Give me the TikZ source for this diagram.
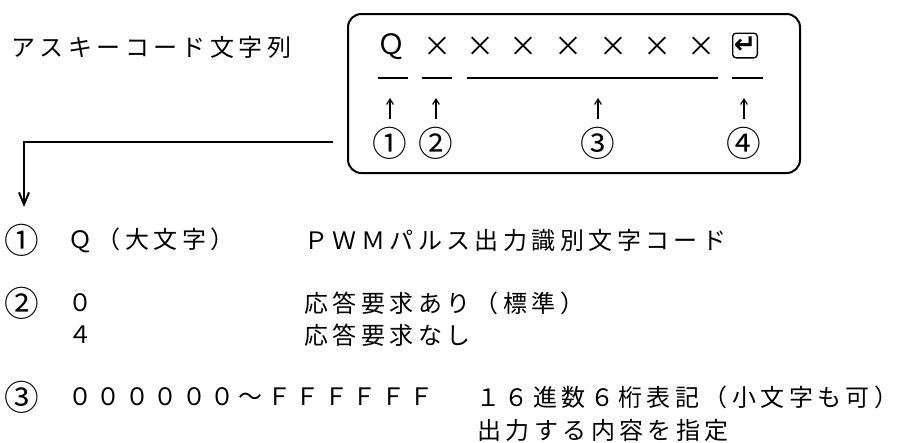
\documentclass[tikz,border=0pt]{standalone}
\usepackage{fontspec}
\newfontfamily\jp[LetterSpace=18.5]{Noto Sans CJK JP}
\newfontfamily\jpn{Noto Sans CJK JP}
\newfontfamily\symfont{DejaVu Sans}
\usetikzlibrary{arrows.meta, positioning, calc}

\begin{document}
\begin{tikzpicture}[
    x=0.75pt, y=-0.75pt,
    txt/.style={anchor=west, inner sep=0pt, font=\jp\fontsize{18pt}{22pt}\selectfont},
    glyph/.style={inner sep=0pt, font=\jpn\fontsize{26pt}{28pt}\selectfont},
    boxch/.style={inner sep=0pt, font=\jpn\fontsize{21pt}{24pt}\selectfont},
    uline/.style={line width=1.5pt},
    ptr/.style={-{Straight Barb[length=4pt,width=5pt]}, line width=0.9pt, shorten <=18pt},
    link/.style={-{Straight Barb[length=9pt,width=7.5pt]}, line width=1.5pt}
]
\useasboundingbox (0,0) rectangle (908,443);

% Title
\node[txt] (title) at (11,47) {アスキーコード文字列};

% Frame with the code string
\node[draw, line width=1.5pt, rounded corners=10pt, minimum width=339pt, minimum height=119.25pt, inner sep=0pt] (frame) at (574,93.5) {};

\node[boxch] (c0) at (391,47) {Ｑ};
\foreach \x [count=\i] in {437,480,523,568,613,657,701} {
    \node[boxch] (c\i) at (\x,47) {×};
}
\node[draw, line width=1pt, rounded corners=2.5pt, minimum size=18.5pt, inner sep=0pt, font=\symfont\bfseries\fontsize{20pt}{20pt}\selectfont] (ret) at (745,45.5) {↵};

% Underlines
\foreach \a/\b in {378/408, 422/452, 467/718, 732/763} {
    \draw[uline] (\a,78) -- (\b,78);
}

% Pointers
\foreach \x/\n/\t in {390/1/①, 436/2/②, 598/3/③, 744/4/④} {
    \node[glyph] (n\n) at (\x,143) {\t};
    \coordinate (tip\n) at (\x,98);
    \draw[ptr] (n\n.center) -- (tip\n);
}

% Connector to the list
\coordinate (turn) at (24,142);
\coordinate (drop) at (24,207);
\draw[link, shorten <=10.5pt] (frame.west |- turn) -| (drop);

% List
\node[glyph] (item1) at (21.5,240) {①};
\node[txt] (val1) at (68,240) {Ｑ（大文字）};
\node[txt] (desc1) at (304,240) {ＰＷＭパルス出力識別文字コード};

\node[glyph] (item2) at (21.5,303) {②};
\node[txt] (val2a) at (68,303) {０};
\node[txt] (desc2a) at (304,303) {応答要求あり（標準）};
\node[txt] (val2b) at (68,335) {４};
\node[txt] (desc2b) at (304,335) {応答要求なし};

\node[glyph] (item3) at (21.5,397) {③};
\node[txt] (val3) at (68,397) {００００００～ＦＦＦＦＦＦ};
\node[txt] (desc3a) at (476,397) {１６進数６桁表記（小文字も可）};
\node[txt] (desc3b) at (477,430) {出力する内容を指定};

\end{tikzpicture}
\end{document}
